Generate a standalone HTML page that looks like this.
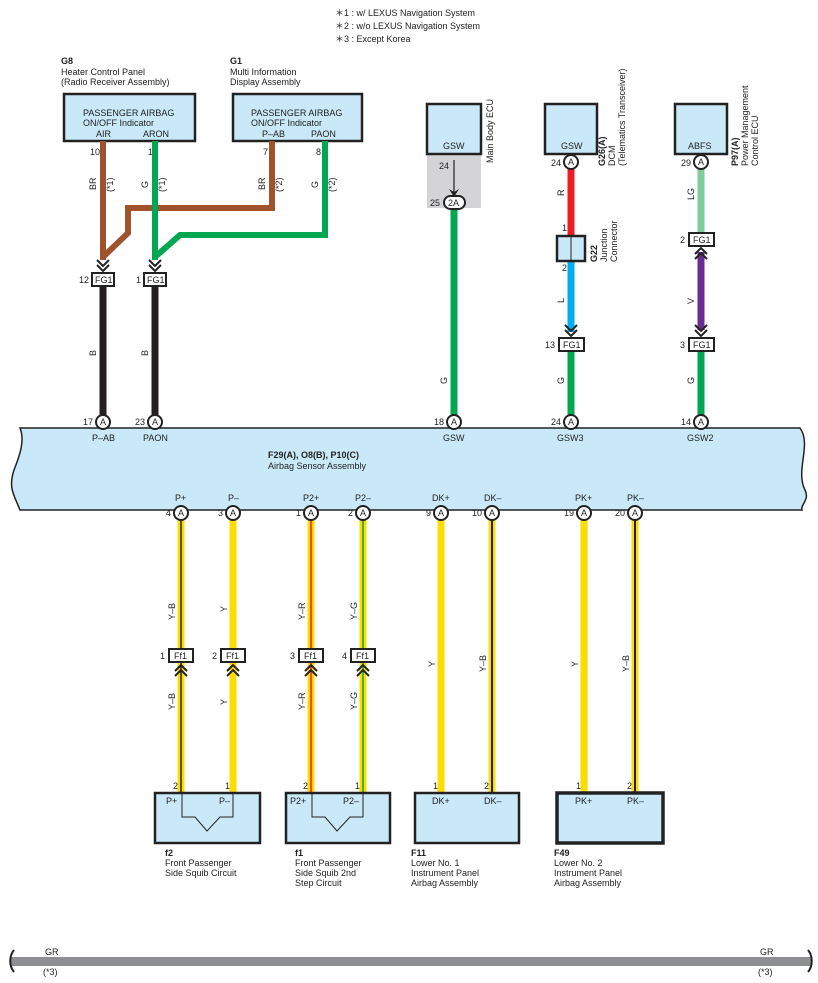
<!DOCTYPE html>
<html><head><meta charset="utf-8"><style>
html,body{margin:0;padding:0;background:#fff}
svg{display:block;font-family:"Liberation Sans",Arial,sans-serif}
text{font-size:9px;fill:#222}
.b{font-weight:bold}
.bx{fill:#c9e9f9;stroke:#222;stroke-width:2.5}
.c{fill:#fff;stroke:#222;stroke-width:2}
.fg{fill:#fff;stroke:#222;stroke-width:2}
</style></head><body>
<svg width="818" height="983" viewBox="0 0 818 983" xmlns="http://www.w3.org/2000/svg">
<defs>
<g id="chevd"><path d="M-6,-6 L0,0 L6,-6 M-6,-1 L0,5 L6,-1" fill="none" stroke="#222" stroke-width="2"/></g>
<g id="chevu"><path d="M-6,6 L0,0 L6,6 M-6,1 L0,-5 L6,1" fill="none" stroke="#222" stroke-width="2"/></g>
</defs>
<!-- notes -->
<text x="335" y="16">＊1 : w/ LEXUS Navigation System</text>
<text x="335" y="29">＊2 : w/o LEXUS Navigation System</text>
<text x="335" y="42">＊3 : Except Korea</text>

<!-- G8 / G1 -->
<text x="61" y="64" class="b">G8</text>
<text x="61" y="75">Heater Control Panel</text>
<text x="61" y="85">(Radio Receiver Assembly)</text>
<rect class="bx" x="64" y="94" width="131" height="47"/>
<text x="83" y="116">PASSENGER AIRBAG</text>
<text x="83" y="126">ON/OFF Indicator</text>
<text x="96" y="137">AIR</text><text x="143" y="137">ARON</text>
<text x="230" y="64" class="b">G1</text>
<text x="230" y="75">Multi Information</text>
<text x="230" y="85">Display Assembly</text>
<rect class="bx" x="233" y="94" width="129" height="47"/>
<text x="251" y="116">PASSENGER AIRBAG</text>
<text x="251" y="126">ON/OFF Indicator</text>
<text x="262" y="137">P–AB</text><text x="311" y="137">PAON</text>

<text x="90" y="155">10</text><text x="148" y="155">1</text>
<text x="263" y="155">7</text><text x="316" y="155">8</text>
<!-- brown -->
<path d="M103,141 V260 M272,141 V208 H128 V233 L103,257" fill="none" stroke="#a0522d" stroke-width="6"/>
<!-- green -->
<path d="M155,141 V260 M325,141 V235 H180 L155,257" fill="none" stroke="#00a650" stroke-width="6"/>
<g transform="translate(96,190) rotate(-90)"><text>BR</text></g>
<g transform="translate(113,192) rotate(-90)"><text>(*1)</text></g>
<g transform="translate(148,188) rotate(-90)"><text>G</text></g>
<g transform="translate(165,192) rotate(-90)"><text>(*1)</text></g>
<g transform="translate(265,190) rotate(-90)"><text>BR</text></g>
<g transform="translate(282,192) rotate(-90)"><text>(*2)</text></g>
<g transform="translate(318,188) rotate(-90)"><text>G</text></g>
<g transform="translate(335,192) rotate(-90)"><text>(*2)</text></g>
<use href="#chevd" x="103" y="266"/><use href="#chevd" x="155" y="266"/>
<path d="M103,286 V416 M155,286 V416" stroke="#231f20" stroke-width="7"/>
<rect class="fg" x="92" y="273" width="22" height="13"/><text x="95" y="283">FG1</text><text x="79" y="283">12</text>
<rect class="fg" x="144" y="273" width="22" height="13"/><text x="147" y="283">FG1</text><text x="136" y="283">1</text>
<g transform="translate(96,356) rotate(-90)"><text>B</text></g>
<g transform="translate(148,356) rotate(-90)"><text>B</text></g>

<!-- Main body ECU -->
<rect x="427" y="154" width="54" height="54" fill="#d4d4d6"/>
<rect class="bx" x="427" y="104" width="54" height="50"/>
<text x="443" y="149">GSW</text>
<g transform="translate(493,163) rotate(-90)"><text>Main Body ECU</text></g>
<text x="439" y="169">24</text>
<path d="M454,160 V194" stroke="#222" stroke-width="1.2"/>
<path d="M449,189 L454,197 L459,189 L454,192Z" fill="#222"/>
<path d="M454,208 V416" stroke="#00a650" stroke-width="7"/>
<rect x="444" y="196" width="21" height="13" rx="6.5" class="c"/><text x="448" y="206">2A</text>
<text x="430" y="206">25</text>
<g transform="translate(447,384) rotate(-90)"><text>G</text></g>

<!-- G26 -->
<rect class="bx" x="545" y="104" width="52" height="50"/>
<text x="561" y="149">GSW</text>
<g transform="translate(605,166) rotate(-90)"><text class="b">G26(A)</text></g>
<g transform="translate(615,166) rotate(-90)"><text>DCM</text></g>
<g transform="translate(625,166) rotate(-90)"><text>(Telematics Transceiver)</text></g>
<path d="M571,168 V236" stroke="#ed1c24" stroke-width="7"/>
<path d="M571,261 V332" stroke="#00aeef" stroke-width="7"/>
<path d="M571,351 V416" stroke="#00a650" stroke-width="7"/>
<circle class="c" cx="571" cy="162" r="7"/><text x="568" y="165">A</text><text x="551" y="166">24</text>
<rect x="557" y="236" width="28" height="25" fill="#c9e9f9" stroke="#222" stroke-width="2.5"/>
<path d="M571,236 V261" stroke="#222"/>
<text x="562" y="231">1</text><text x="562" y="271">2</text>
<g transform="translate(597,262) rotate(-90)"><text class="b">G22</text></g>
<g transform="translate(607,262) rotate(-90)"><text>Junction</text></g>
<g transform="translate(617,262) rotate(-90)"><text>Connector</text></g>
<g transform="translate(564,196) rotate(-90)"><text>R</text></g>
<g transform="translate(564,303) rotate(-90)"><text>L</text></g>
<use href="#chevd" x="571" y="331"/>
<rect class="fg" x="559" y="338" width="25" height="13"/><text x="563" y="348">FG1</text><text x="545" y="348">13</text>
<g transform="translate(564,384) rotate(-90)"><text>G</text></g>

<!-- P97 -->
<rect class="bx" x="675" y="104" width="52" height="50"/>
<text x="688" y="149">ABFS</text>
<g transform="translate(738,166) rotate(-90)"><text class="b">P97(A)</text></g>
<g transform="translate(748,166) rotate(-90)"><text>Power Management</text></g>
<g transform="translate(758,166) rotate(-90)"><text>Control ECU</text></g>
<path d="M701,168 V234" stroke="#80cc9c" stroke-width="7"/>
<path d="M701,252 V330" stroke="#6a2c91" stroke-width="7"/>
<path d="M701,351 V416" stroke="#00a650" stroke-width="7"/>
<circle class="c" cx="701" cy="162" r="7"/><text x="698" y="165">A</text><text x="681" y="166">29</text>
<g transform="translate(694,200) rotate(-90)"><text>LG</text></g>
<rect class="fg" x="689" y="233" width="25" height="13"/><text x="693" y="243">FG1</text><text x="680" y="243">2</text>
<use href="#chevu" x="701" y="253"/>
<g transform="translate(694,304) rotate(-90)"><text>V</text></g>
<use href="#chevd" x="701" y="331"/>
<rect class="fg" x="689" y="338" width="25" height="13"/><text x="693" y="348">FG1</text><text x="680" y="348">3</text>
<g transform="translate(694,384) rotate(-90)"><text>G</text></g>

<!-- sensor -->
<path d="M20,428 H800 C812,445 795,470 805,490 C810,500 800,505 802,510 H20 C14,495 8,488 14,470 C20,455 25,440 20,428Z" fill="#c9e9f9" stroke="#222" stroke-width="1.5"/>
<g>
<circle class="c" cx="103" cy="422" r="7"/><text x="100" y="425">A</text><text x="83" y="425">17</text>
<circle class="c" cx="155" cy="422" r="7"/><text x="152" y="425">A</text><text x="135" y="425">23</text>
<circle class="c" cx="454" cy="422" r="7"/><text x="451" y="425">A</text><text x="434" y="425">18</text>
<circle class="c" cx="571" cy="422" r="7"/><text x="568" y="425">A</text><text x="551" y="425">24</text>
<circle class="c" cx="701" cy="422" r="7"/><text x="698" y="425">A</text><text x="681" y="425">14</text>
</g>
<text x="92" y="441">P–AB</text><text x="143" y="441">PAON</text>
<text x="443" y="441">GSW</text><text x="557" y="441">GSW3</text><text x="687" y="441">GSW2</text>
<text x="268" y="458" class="b">F29(A), O8(B), P10(C)</text>
<text x="268" y="469">Airbag Sensor Assembly</text>
<text x="175" y="501">P+</text><text x="228" y="501">P–</text><text x="303" y="501">P2+</text><text x="355" y="501">P2–</text>
<text x="432" y="501">DK+</text><text x="484" y="501">DK–</text><text x="575" y="501">PK+</text><text x="627" y="501">PK–</text>

<!-- lower wires -->
<g stroke-width="7">
<path d="M181,519 V793" stroke="#ffdc00"/><path d="M181,519 V793" stroke="#222" stroke-width="1.5"/>
<path d="M233,519 V793" stroke="#ffdc00"/>
<path d="M311,519 V793" stroke="#ffdc00"/><path d="M311,519 V793" stroke="#ed1c24" stroke-width="1.5"/>
<path d="M363,519 V793" stroke="#ffdc00"/><path d="M363,519 V793" stroke="#00a650" stroke-width="1.5"/>
<path d="M441,519 V793" stroke="#ffdc00"/>
<path d="M492,519 V793" stroke="#ffdc00"/><path d="M492,519 V793" stroke="#222" stroke-width="2"/>
<path d="M584,519 V793" stroke="#ffdc00"/>
<path d="M635,519 V793" stroke="#ffdc00"/><path d="M635,519 V793" stroke="#222" stroke-width="2"/>
</g>
<g>
<circle class="c" cx="181" cy="513" r="7"/><text x="178" y="516">A</text><text x="166" y="516">4</text>
<circle class="c" cx="233" cy="513" r="7"/><text x="230" y="516">A</text><text x="218" y="516">3</text>
<circle class="c" cx="311" cy="513" r="7"/><text x="308" y="516">A</text><text x="296" y="516">1</text>
<circle class="c" cx="363" cy="513" r="7"/><text x="360" y="516">A</text><text x="348" y="516">2</text>
<circle class="c" cx="441" cy="513" r="7"/><text x="438" y="516">A</text><text x="426" y="516">9</text>
<circle class="c" cx="492" cy="513" r="7"/><text x="489" y="516">A</text><text x="472" y="516">10</text>
<circle class="c" cx="584" cy="513" r="7"/><text x="581" y="516">A</text><text x="564" y="516">19</text>
<circle class="c" cx="635" cy="513" r="7"/><text x="632" y="516">A</text><text x="615" y="516">20</text>
</g>
<g transform="translate(175,620) rotate(-90)"><text>Y–B</text></g>
<g transform="translate(227,612) rotate(-90)"><text>Y</text></g>
<g transform="translate(305,620) rotate(-90)"><text>Y–R</text></g>
<g transform="translate(357,620) rotate(-90)"><text>Y–G</text></g>
<g transform="translate(175,710) rotate(-90)"><text>Y–B</text></g>
<g transform="translate(227,705) rotate(-90)"><text>Y</text></g>
<g transform="translate(305,710) rotate(-90)"><text>Y–R</text></g>
<g transform="translate(357,710) rotate(-90)"><text>Y–G</text></g>
<g transform="translate(435,667) rotate(-90)"><text>Y</text></g>
<g transform="translate(486,672) rotate(-90)"><text>Y–B</text></g>
<g transform="translate(578,667) rotate(-90)"><text>Y</text></g>
<g transform="translate(629,672) rotate(-90)"><text>Y–B</text></g>
<g>
<rect class="fg" x="169" y="649" width="24" height="13"/><text x="174" y="659">Ff1</text><text x="160" y="659">1</text>
<rect class="fg" x="221" y="649" width="24" height="13"/><text x="226" y="659">Ff1</text><text x="212" y="659">2</text>
<rect class="fg" x="299" y="649" width="24" height="13"/><text x="304" y="659">Ff1</text><text x="290" y="659">3</text>
<rect class="fg" x="351" y="649" width="24" height="13"/><text x="356" y="659">Ff1</text><text x="342" y="659">4</text>
</g>
<use href="#chevu" x="181" y="670"/><use href="#chevu" x="233" y="670"/><use href="#chevu" x="311" y="670"/><use href="#chevu" x="363" y="670"/>

<!-- bottom components -->
<text x="173" y="789">2</text><text x="225" y="789">1</text>
<text x="303" y="789">2</text><text x="355" y="789">1</text>
<text x="433" y="789">1</text><text x="484" y="789">2</text>
<text x="576" y="789">1</text><text x="627" y="789">2</text>
<rect class="bx" x="155" y="793" width="105" height="50"/>
<path d="M182,793 V817 H195 L207,831 L220,817 H233 V793" fill="none" stroke="#222" stroke-width="1"/>
<text x="166" y="804">P+</text><text x="219" y="804">P–</text>
<rect class="bx" x="286" y="793" width="104" height="50"/>
<path d="M312,793 V817 H325 L337,831 L350,817 H363 V793" fill="none" stroke="#222" stroke-width="1"/>
<text x="290" y="804">P2+</text><text x="343" y="804">P2–</text>
<rect class="bx" x="415" y="793" width="104" height="50"/>
<text x="432" y="804">DK+</text><text x="484" y="804">DK–</text>
<rect x="557" y="793" width="106" height="50" fill="#c9e9f9" stroke="#222" stroke-width="3.5"/>
<text x="575" y="804">PK+</text><text x="627" y="804">PK–</text>
<text x="165" y="856" class="b">f2</text><text x="165" y="866">Front Passenger</text><text x="165" y="876">Side Squib Circuit</text>
<text x="295" y="856" class="b">f1</text><text x="295" y="866">Front Passenger</text><text x="295" y="876">Side Squib 2nd</text><text x="295" y="886">Step Circuit</text>
<text x="411" y="856" class="b">F11</text><text x="411" y="866">Lower No.  1</text><text x="411" y="876">Instrument Panel</text><text x="411" y="886">Airbag Assembly</text>
<text x="554" y="856" class="b">F49</text><text x="554" y="866">Lower No.  2</text><text x="554" y="876">Instrument Panel</text><text x="554" y="886">Airbag Assembly</text>

<!-- GR bar -->
<rect x="11" y="957" width="801" height="9" fill="#8e8f93"/>
<path d="M14,950 C9,956 9,966 14,972" fill="none" stroke="#222" stroke-width="2"/>
<path d="M808,950 C813,956 813,966 808,972" fill="none" stroke="#222" stroke-width="2"/>
<text x="45" y="955">GR</text><text x="43" y="975">(*3)</text>
<text x="760" y="955">GR</text><text x="758" y="975">(*3)</text>
</svg>
</body></html>
